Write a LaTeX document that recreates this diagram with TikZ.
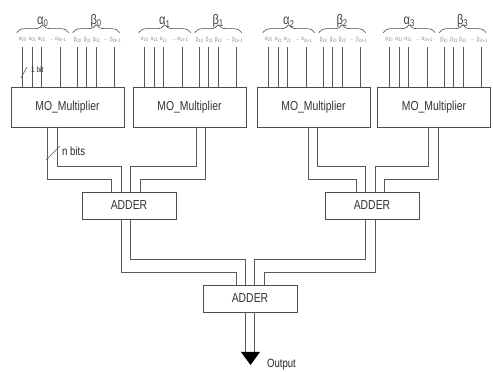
\documentclass[tikz,border=0pt]{standalone}
\usepackage{fontspec}
\setmainfont[FakeStretch=0.8]{Liberation Sans}
\usetikzlibrary{positioning,decorations.pathreplacing,calc}

\begin{document}
\begin{tikzpicture}[x=1pt,y=1pt,
  wire/.style={black!65,line width=0.6pt},
  blockbox/.style={draw=black!70,line width=0.6pt,text=black!80,font=\fontsize{13}{15}\selectfont},
  mult/.style={blockbox,minimum width=113pt,minimum height=40pt},
  adder/.style={blockbox,minimum width=94pt,minimum height=27pt},
  sig/.style={text=black!45,font=\fontsize{6}{7}\selectfont,inner sep=0pt},
  grp/.style={text=black!75,font=\fontsize{14}{16}\selectfont},
  note/.style={text=black!85,font=\fontsize{12}{14}\selectfont},
  bracket/.style={decorate,decoration={brace,amplitude=8pt},black!70,line width=0.6pt}]
\useasboundingbox (0,0) rectangle (493,372);

% Multipliers
\node[mult] (m0) at (67.5,265) {MO\_Multiplier};
\node[mult] (m1) at (189.5,265) {MO\_Multiplier};
\node[mult] (m2) at (313.5,265) {MO\_Multiplier};
\node[mult] (m3) at (434,265) {MO\_Multiplier};

% Adders
\node[adder] (a0) at (129,166.5) {ADDER};
\node[adder] (a1) at (372,166.5) {ADDER};
\node[adder] (af) at (250,73.5) {ADDER};

% Input bits, labels and braces
\foreach \i in {0,...,3} {
  \foreach \dx in {12,22,31,50,67,76,86,104}
    \draw[wire] ([xshift=\dx pt]m\i.north west) -- ++(0,40);
  \foreach \dx/\k in {12/0,22/1,31/2,50/{n-1}} {
    \node[sig] at ([xshift=\dx pt,yshift=47pt]m\i.north west) {α\textsubscript{\i\k}};
    \node[sig] at ([xshift=\dx pt+55pt,yshift=47pt]m\i.north west) {β\textsubscript{\i\k}};
  }
  \node[sig] at ([xshift=41pt,yshift=47pt]m\i.north west) {...};
  \node[sig] at ([xshift=95pt,yshift=47pt]m\i.north west) {...};
  \draw[bracket] ([xshift=6pt,yshift=54pt]m\i.north west) -- ([xshift=58pt,yshift=54pt]m\i.north west)
    node[midway,above=2pt,grp]{α\textsubscript{\i}};
  \draw[bracket] ([xshift=62pt,yshift=54pt]m\i.north west) -- ([xshift=109pt,yshift=54pt]m\i.north west)
    node[midway,above=2pt,grp]{β\textsubscript{\i}};
}

% Bit width marks
\draw[wire] (21,294) -- (27,305);
\node[anchor=west,inner sep=0pt,text=black!85,font=\fontsize{8}{9}\selectfont] (onebit) at (31,302) {1 bit};
\draw[wire] (46,212) -- (60,226);
\node[anchor=west,inner sep=0pt,note] (nbits) at (62,221) {n bits};

% Buses between the stages
\foreach \s/\sx/\t/\tx/\d in {m0/37/a0/30/52, m0/47/a0/40/39, m1/64/a0/49/39, m1/73/a0/59/52,
    m2/52/a1/32/52, m2/61/a1/41/39, m3/51/a1/51/39, m3/61/a1/60/52,
    a0/40/af/34/53, a0/49/af/43/40, a1/41/af/52/40, a1/51/af/62/53}
  \draw[wire] ([xshift=\sx pt]\s.south west) -- ++(0,-\d) -| ([xshift=\tx pt]\t.north west);

% Output
\coordinate (tip) at (250.5,7);
\foreach \dx in {43,52}
  \draw[wire] ([xshift=\dx pt]af.south west) -- ++(0,-40);
\fill[black] ($(tip)+(-9.5,13)$) -- ($(tip)+(9.5,13)$) -- (tip) -- cycle;
\node[note,right=13pt of tip] (outlbl) {Output};
\end{tikzpicture}
\end{document}
